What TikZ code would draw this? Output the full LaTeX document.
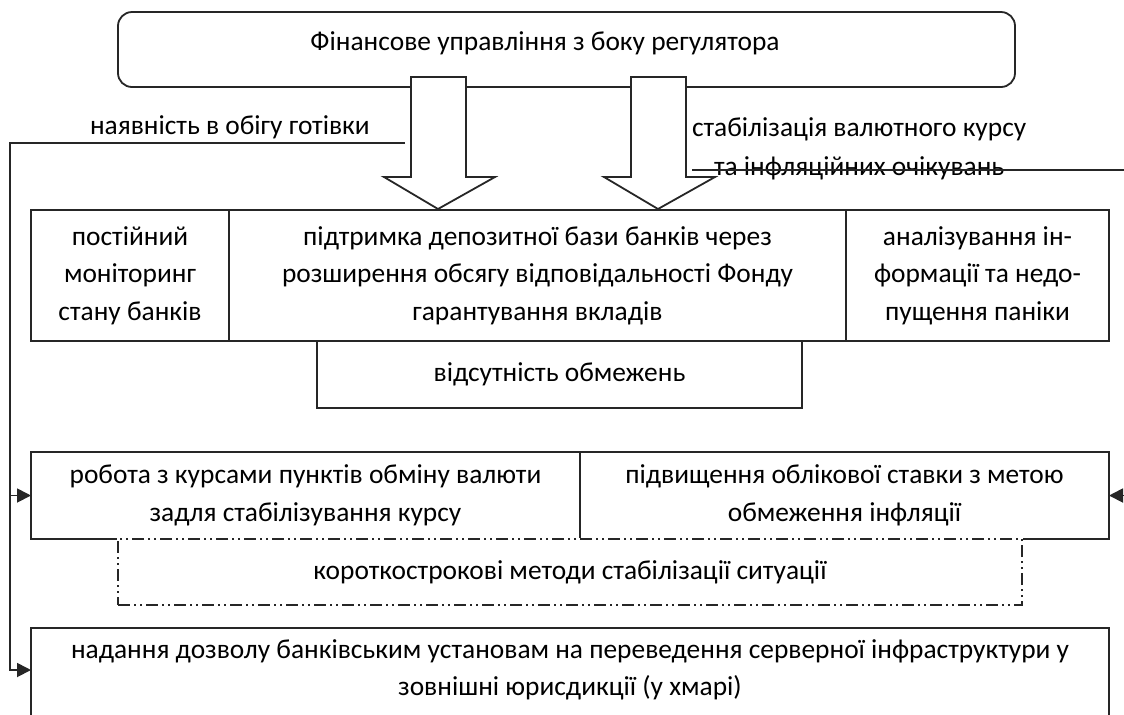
\documentclass[tikz,border=0pt]{standalone}
\usepackage{fontspec}
\setmainfont{Carlito}
\usetikzlibrary{arrows.meta,positioning}

\begin{document}
\begin{tikzpicture}[
    x=0.5pt, y=-0.5pt,
    font=\fontsize{13.7}{18.75}\selectfont,
    box/.style={draw=black!85, line width=0.9pt, fill=white, inner sep=2pt, outer sep=0pt,
        align=center, anchor=north west},
    dashdot box/.style={box, preaction={draw=white, solid},
        dash pattern=on 6pt off 2pt on 1pt off 2pt on 1pt off 2pt},
    big arrow/.style={draw=black!85, fill=white, line width=0.9pt},
    link/.style={-{Triangle[length=7pt,width=7pt]}, draw=black!85, line width=0.9pt},
    txt/.style={inner sep=0pt, outer sep=0pt},
]

\useasboundingbox (0,0) rectangle (1124,714);

% Regulator box
\node[box, rounded corners=7pt, minimum width=448.5pt, minimum height=37.5pt] (reg) at (118,12) {};
\node[txt, anchor=base] (regtxt) at (545,50) {Фінансове управління з боку регулятора};

% Hollow arrows
\foreach \dx in {0,220}
    \draw[big arrow] (411+\dx,77) -- (466+\dx,77) -- (466+\dx,177) -- (495+\dx,177)
        -- (438+\dx,209) -- (384+\dx,177) -- (411+\dx,177) -- cycle;

% Side labels
\node[txt, anchor=base west] (got) at (90,134) {наявність в обігу готівки};
\node[txt, anchor=base west] (kurs) at (692,136) {стабілізація валютного курсу};
\node[txt, anchor=base west] (infl) at (714,175) {та інфляційних очікувань};

% Row 1
\node[box, minimum width=99pt, minimum height=65.5pt] (mon) at (31,210)
    {постійний\\моніторинг\\стану банків};
\node[box, minimum width=308.5pt, minimum height=65.5pt] (dep) at (mon.north east)
    {підтримка депозитної бази банків через\\розширення обсягу відповідальності Фонду\\гарантування вкладів};
\node[box, minimum width=131.5pt, minimum height=65.5pt] (ana) at (dep.north east)
    {аналізування ін-\\формації та недо-\\пущення паніки};
\node[box, minimum width=242.5pt, minimum height=33.5pt] (abs) at (317,341)
    {відсутність обмежень};

% Row 2
\node[box, minimum width=274.5pt, minimum height=43.5pt] (rob) at (31,452)
    {робота з курсами пунктів обміну валюти\\задля стабілізування курсу};
\node[box, minimum width=264.5pt, minimum height=43.5pt] (pid) at (rob.north east)
    {підвищення облікової ставки з метою\\обмеження інфляції};
\node[dashdot box, minimum width=452pt, minimum height=33pt] (kor) at (118,539)
    {короткострокові методи стабілізації ситуації};

% Bottom box (runs past the page)
\node[txt, align=center, anchor=north west, minimum width=539pt, minimum height=42pt] (nad) at (31,628)
    {надання дозволу банківським установам на переведення серверної інфраструктури у\\зовнішні юрисдикції (у хмарі)};
\draw[draw=black!85, line width=0.9pt] ([yshift=-20pt]nad.south west) -- (nad.north west)
    -- (nad.north east) -- ([yshift=-20pt]nad.south east);

% Connectors
\coordinate (gl) at (405,143);
\coordinate (lc) at (10,143);
\coordinate (gr) at (692,170);
\coordinate (rc) at (1150,170);

\draw[link] (gl) -- (lc) |- (nad.west);
\draw[link] (lc |- rob.west) -- (rob.west);
\draw[link] (gr) -- (rc) |- (pid.east);

\end{tikzpicture}
\end{document}
